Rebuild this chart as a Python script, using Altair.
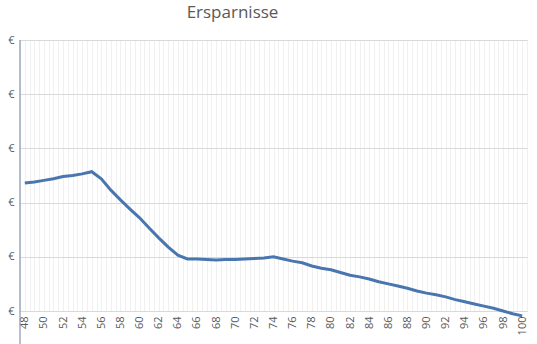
import altair as alt
import pandas as pd

ages = list(range(48, 101))
values = [2.36, 2.38, 2.41, 2.44, 2.48, 2.50, 2.53, 2.57, 2.44, 2.23,
          2.05, 1.88, 1.72, 1.53, 1.35, 1.18, 1.03, 0.96, 0.96, 0.95,
          0.94, 0.95, 0.95, 0.96, 0.97, 0.98, 1.00, 0.96, 0.92, 0.89,
          0.83, 0.79, 0.76, 0.71, 0.66, 0.63, 0.59, 0.54, 0.50, 0.46,
          0.42, 0.37, 0.33, 0.30, 0.26, 0.21, 0.17, 0.13, 0.09, 0.05,
          0.00, -0.05, -0.09]
y_ticks = [0, 1, 2, 3, 4, 5]
x_grid = [47.5 + 0.5 * i for i in range(107)]

df = pd.DataFrame({"Alter": ages, "Ersparnisse": values})

font = "Open Sans"
text_color = "#595959"

base = alt.Chart(df)

line = base.mark_line(color="#4a76b0", strokeWidth=3, clip=False).encode(
    x=alt.X("Alter:Q",
            scale=alt.Scale(domain=[47.5, 100.5], nice=False, zero=False),
            axis=alt.Axis(values=x_grid, grid=True, gridColor="#f0f0f0", gridWidth=1,
                          ticks=False, domain=False, labelAngle=-90,
                          labelExpr="(datum.value % 2 == 0) ? datum.value : ''",
                          labelFontSize=11, labelColor=text_color, labelFont=font,
                          labelPadding=5, title=None, labelOverlap=False)),
    y=alt.Y("Ersparnisse:Q",
            scale=alt.Scale(domain=[0, 5], nice=False, zero=False),
            axis=alt.Axis(values=y_ticks, grid=True, gridColor="#d9d9d9", gridWidth=1,
                          ticks=False, domain=False, labelExpr="'€'",
                          labelFontSize=11, labelColor=text_color, labelFont=font,
                          labelPadding=6, title=None)),
)

yaxis_line = alt.Chart(pd.DataFrame({"a": [0]})).mark_rule(
    color="#8497b0", strokeWidth=1.2, clip=False
).encode(x=alt.value(0), y=alt.value(0), y2=alt.value(304))

chart = alt.layer(line, yaxis_line).properties(
    width=507,
    height=271,
    autosize=alt.AutoSizeParams(type="none"),
    padding={"left": 20, "top": 40, "right": 10, "bottom": 33},
    title=alt.TitleParams("Ersparnisse", font=font, fontSize=17, fontWeight="normal",
                          color=text_color, anchor="middle", dx=-41, offset=12),
).configure_view(stroke=None).configure(background="white")

chart.save("out.html", embed_options={"renderer": "svg", "actions": False})
